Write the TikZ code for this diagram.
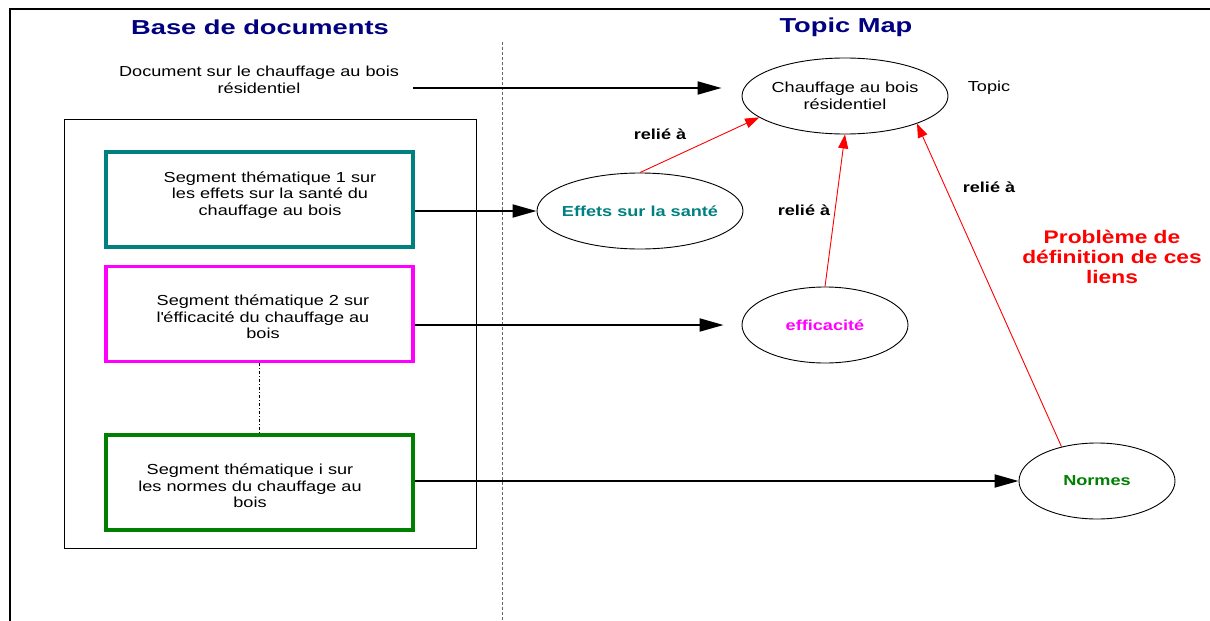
\documentclass[tikz,border=0pt]{standalone}
\usepackage{fontspec}
\setmainfont{Liberation Sans}[FakeStretch=1.25]
\newfontfamily\titlefont{Liberation Sans}[FakeStretch=1.35]
\usetikzlibrary{arrows.meta,shapes.geometric}
\definecolor{navyc}{RGB}{0,0,128}
\definecolor{tealc}{RGB}{0,128,128}
\definecolor{magc}{RGB}{255,0,255}
\definecolor{greenc}{RGB}{0,128,0}
\definecolor{redc}{RGB}{255,0,0}
\begin{document}
\begin{tikzpicture}[x=1pt,y=-1pt,
 txt/.style={font=\fontsize{14.5}{16.5}\selectfont, align=center, inner sep=0pt},
 btxt/.style={font=\fontsize{14.5}{16.5}\selectfont\bfseries, align=center, inner sep=0pt},
 redtxt/.style={font=\fontsize{18.2}{20}\selectfont\bfseries, text=redc, align=center, inner sep=0pt},
 titletxt/.style={font=\titlefont\fontsize{20.2}{24}\selectfont\bfseries, text=navyc, inner sep=0pt},
 segbox/.style={draw, line width=3.5pt, minimum width=307pt, minimum height=95pt, inner sep=0pt},
 topic/.style={draw, ellipse, line width=0.9pt, inner sep=0pt, minimum height=76pt},
 bigarrow/.style={line width=2pt, -{Triangle[length=24pt,width=13pt]}},
 redarrow/.style={draw=redc, line width=0.9pt, -{Triangle[length=14pt,width=10pt]}}]
\useasboundingbox (0,0) rectangle (1210,621);
\fill[white] (0,0) rectangle (1210,621);
% outer frame and separator
\draw[line width=2pt] (1211,9) -- (10,9) -- (10,622);
\draw[black!60, dash pattern=on 3pt off 2pt, line width=0.9pt] (502,42) -- (502,622);
% titles
\node[titletxt] (t1) at (260,27) {Base de documents};
\node[titletxt] (t2) at (846,27) {Topic Map};
% document
\node[txt] (doc) at (259,80) {Document sur le chauffage au bois\\résidentiel};
\coordinate (docarrow) at (413,88);
% container and segments
\node[draw, line width=1pt, minimum width=412pt, minimum height=429pt, inner sep=0pt] (cont) at (270,333.5) {};
\node[segbox, draw=tealc] (box1) at (259.5,199.5) {};
\node[segbox, draw=magc] (box2) at (259.5,314) {};
\node[segbox, draw=greenc] (box3) at (259.5,482.5) {};
\node[txt] (s1) at (270,195) {Segment thématique 1 sur\\les effets sur la santé du\\chauffage au bois};
\node[txt] (s2) at (263,317) {Segment thématique 2 sur\\l\textquotesingle éfficacité du chauffage au\\bois};
\node[txt] (s3) at (250,486) {Segment thématique i sur\\les normes du chauffage au\\bois};
\draw[line width=0.8pt, dash pattern=on 3pt off 2pt on 1pt off 2pt] (box2.south) -- (box3.north);
% topics
\node[topic, minimum width=206pt, label={[txt]center:Chauffage au bois\\résidentiel}] (chauf) at (845,96) {};
\node[txt] (topiclbl) at (989,88) {Topic};
\node[topic, minimum width=206pt, label={[btxt, text=tealc]center:Effets sur la santé}] (effets) at (640,211) {};
\node[topic, minimum width=166pt, label={[btxt, text=magc]center:efficacité}] (effic) at (825,325) {};
\node[topic, minimum width=156pt, label={[btxt, text=greenc]center:Normes}] (normes) at (1097,481) {};
% black arrows
\draw[bigarrow, shorten >=20pt] (docarrow) -- (chauf.west |- docarrow);
\draw[bigarrow] (box1.east |- effets.center) -- (effets.west);
\draw[bigarrow, shorten >=18pt] (box2.east |- effic.center) -- (effic.west);
\draw[bigarrow] (box3.east |- normes.center) -- (normes.west);
% red arrows
\draw[redarrow] (effets.north) -- (chauf.194);
\draw[redarrow] (effic.north) -- (chauf.south);
\draw[redarrow] (normes.136) -- (chauf.339.5);
% labels
\node[btxt] (r1) at (660,134) {relié à};
\node[btxt] (r2) at (804,210) {relié à};
\node[btxt] (r3) at (989,187) {relié à};
\node[redtxt] (prob) at (1112,257) {Problème de\\définition de ces\\liens};
\end{tikzpicture}
\end{document}
